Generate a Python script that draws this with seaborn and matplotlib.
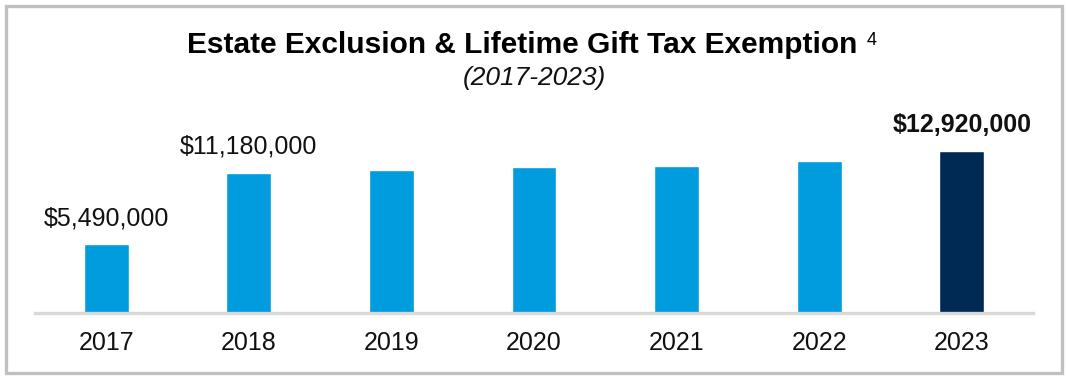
import matplotlib
matplotlib.use("Agg")
import matplotlib.pyplot as plt
import seaborn as sns
import pandas as pd
from matplotlib.patches import Rectangle

years = ["2017", "2018", "2019", "2020", "2021", "2022", "2023"]
values = [5490000, 11180000, 11400000, 11580000, 11700000, 12060000, 12920000]
labels = ["$5,490,000", "$11,180,000", "", "", "", "", "$12,920,000"]
bold_label = [False, False, False, False, False, False, True]
colors = ["#009CDE", "#009CDE", "#009CDE", "#009CDE", "#009CDE", "#009CDE", "#002A54"]

sns.set_theme(style="white")
plt.rcParams['font.family'] = ['Liberation Sans', 'DejaVu Sans']

W, H = 1067, 378
fig = plt.figure(figsize=(W / 100, H / 100), dpi=100)
ax = fig.add_axes([35 / W, (H - 313) / H, (1033 - 35) / W, (313 - 100) / H])

df = pd.DataFrame({"year": years, "value": values})
sns.barplot(data=df, x="year", y="value", hue="year", palette=colors,
            legend=False, width=0.315, ax=ax, saturation=1)

ax.set_xlim(-0.5, 6.5)
ax.set_ylim(0, 16.95e6)
ax.set_xlabel("")
ax.set_ylabel("")
ax.set_yticks([])
for s in ["top", "left", "right"]:
    ax.spines[s].set_visible(False)
ax.spines["bottom"].set_color("#d9d9d9")
ax.spines["bottom"].set_linewidth(2.4)
ax.tick_params(axis="x", length=0, pad=13, labelsize=18, labelcolor="#111111")

for i, (v, lab, b) in enumerate(zip(values, labels, bold_label)):
    if lab:
        ax.annotate(lab, xy=(i, v), xytext=(0, 10), textcoords="offset points",
                    ha="center", va="bottom", fontsize=18,
                    fontweight="bold" if b else "normal", color="#111111")

t = fig.text(522 / W, 1 - 45 / H, "Estate Exclusion & Lifetime Gift Tax Exemption",
             ha="center", va="center", fontsize=21.5, fontweight="bold", color="#000000")
fig.canvas.draw()
bb = t.get_window_extent()
fig.text(bb.x1 / W + 9 / W, bb.y1 / H - 1 / H, "4", ha="left", va="top",
         fontsize=13, color="#000000")
fig.text(534 / W, 1 - 78 / H, "(2017-2023)", ha="center", va="center",
         fontsize=19, fontstyle="italic", color="#111111")

fig.patches.append(Rectangle((5.5 / W, 5.5 / H), (W - 11) / W, (H - 11) / H,
                             transform=fig.transFigure, fill=False,
                             edgecolor="#c0c0c0", linewidth=2.4))

fig.savefig("out.png", dpi=100)
